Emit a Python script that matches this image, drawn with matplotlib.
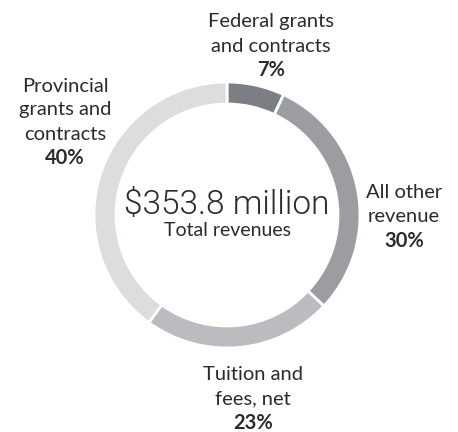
import matplotlib.pyplot as plt

labels = [["Federal grants", "and contracts"],
          ["All other", "revenue"],
          ["Tuition and", "fees, net"],
          ["Provincial", "grants and", "contracts"]]
shares = [7, 30, 23, 40]
colors = ["#7b7e82", "#9b9da1", "#babcbf", "#dcdddf"]
total_text = "$353.8 million"
sub_text = "Total revenues"

plt.rcParams['font.family'] = ['Lato', 'DejaVu Sans']

fig = plt.figure(figsize=(4.58, 4.32), dpi=100)
ax = fig.add_axes([0, 0, 1, 1])

cx, cy, r = 227, 217, 133
ax.pie(shares, colors=colors, startangle=90, counterclock=False,
       center=(cx, cy), radius=r, frame=True,
       wedgeprops=dict(width=22, edgecolor='white', linewidth=2))
ax.set_xlim(0, 458)
ax.set_ylim(0, 432)
ax.set_aspect('equal')
ax.axis('off')

ax.text(cx, 432 - 205, total_text, ha='center', va='center', fontsize=24,
        family=['Roboto', 'DejaVu Sans'], fontweight=300, color='#2b2b2b')
ax.text(cx, 432 - 231, sub_text, ha='center', va='center', fontsize=14,
        color='#2b2b2b')

# label positions: centre x, centre y of first line (pixels from the top)
label_pos = [(271, 22), (404, 193), (253, 375), (65, 86)]
step = 24
for lines, val, (x, y) in zip(labels, shares, label_pos):
    for i, line in enumerate(lines):
        ax.text(x, 432 - (y + i * step), line, ha='center', va='center',
                fontsize=14.5, color='#2b2b2b')
    ax.text(x, 432 - (y + len(lines) * step), f"{val}%", ha='center',
            va='center', fontsize=14.5, fontweight='bold', color='#2b2b2b')

fig.savefig("out.png", dpi=100)
